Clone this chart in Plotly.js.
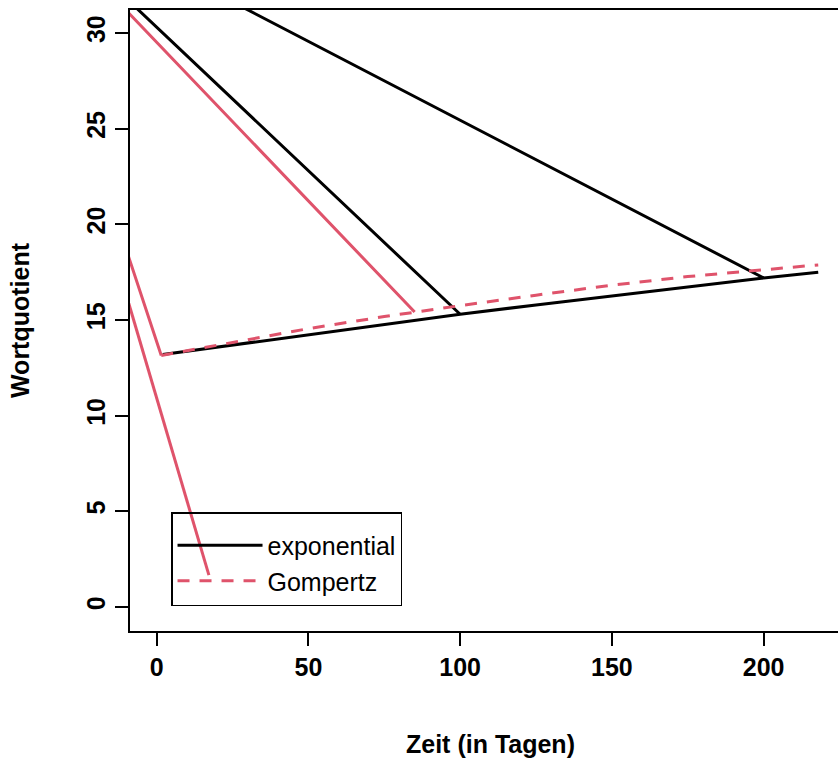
<!DOCTYPE html>
<html>
<head>
<meta charset="utf-8">
<script src="https://cdn.plot.ly/plotly-3.0.1.min.js"></script>
<style>html,body{margin:0;padding:0;background:#fff;overflow:hidden;}#wrap{width:838px;height:760px;overflow:hidden;}#chart{width:851px;height:760px;}</style>
</head>
<body>
<div id="wrap"><div id="chart"></div></div>
<script>
// Fitted curves
var expCurveX  = [2, 25, 50, 75, 100, 125, 150, 175, 200, 218];
var expCurveY  = [13.2, 13.69, 14.22, 14.76, 15.30, 15.79, 16.26, 16.74, 17.20, 17.50];
var gompCurveX = [1.5, 25, 50, 75, 85, 100, 125, 150, 175, 200, 218];
var gompCurveY = [13.15, 13.82, 14.55, 15.18, 15.42, 15.75, 16.30, 16.82, 17.27, 17.62, 17.88];

// Stray connecting segments (all meet at an off-chart point)
var expSegX  = [100, -50, 200];
var expSegY  = [15.30, 37.8, 17.20];
var gompSegX = [85, -50, 1.5, null, -50, 17.2];
var gompSegY = [15.42, 37.8, 13.15, null, 37.8, 1.67];

var seriesNames = ["exponential", "Gompertz"];
var xTicks = [0, 50, 100, 150, 200];
var yTicks = [0, 5, 10, 15, 20, 25, 30];

var BLACK = "#000000", RED = "#DF536B";
var FONT = "Liberation Sans, Arial, Helvetica, sans-serif";

var traces = [
  {x: expSegX, y: expSegY, mode: "lines", line: {color: BLACK, width: 3}, showlegend: false, hoverinfo: "skip", connectgaps: false},
  {x: gompSegX, y: gompSegY, mode: "lines", line: {color: RED, width: 3}, showlegend: false, hoverinfo: "skip", connectgaps: false},
  {x: expCurveX, y: expCurveY, mode: "lines", name: seriesNames[0], line: {color: BLACK, width: 3}},
  {x: gompCurveX, y: gompCurveY, mode: "lines", name: seriesNames[1], line: {color: RED, width: 3, dash: "12px,10px"}}
];

var layout = {
  width: 851, height: 760,
  margin: {l: 130, r: 0, t: 10, b: 129},
  paper_bgcolor: "#fff", plot_bgcolor: "#fff",
  font: {family: FONT, color: "#000", size: 25},
  showlegend: true,
  legend: {
    x: 0.0569, y: 0.1916, xanchor: "left", yanchor: "top",
    bgcolor: "rgba(0,0,0,0)", bordercolor: "#000", borderwidth: 1.5,
    font: {family: FONT, size: 25, color: "#000"},
    itemwidth: 85,
    title: {text: " ", font: {size: 7}}
  },
  xaxis: {
    range: [-8.8, 228.8], tickvals: xTicks, ticktext: xTicks.map(String),
    showgrid: false, zeroline: false, showline: true, linecolor: "#000", linewidth: 2, mirror: true,
    ticks: "outside", ticklen: 13, tickwidth: 2, tickcolor: "#000",
    tickfont: {family: FONT, size: 25, weight: "bold"},
    title: {text: "Zeit (in Tagen)", font: {family: FONT, size: 25, weight: "bold"}, standoff: 55}
  },
  yaxis: {
    range: [-1.25, 31.2], tickvals: yTicks, ticktext: yTicks.map(String), tickangle: -90,
    showgrid: false, zeroline: false, showline: true, linecolor: "#000", linewidth: 2, mirror: true,
    ticks: "outside", ticklen: 13, tickwidth: 2, tickcolor: "#000",
    tickfont: {family: FONT, size: 25, weight: "bold"},
    title: {text: "Wortquotient", font: {family: FONT, size: 25, weight: "bold"}, standoff: 45}
  }
};

Plotly.newPlot("chart", traces, layout, {displayModeBar: false, staticPlot: true});
</script>
</body>
</html>
